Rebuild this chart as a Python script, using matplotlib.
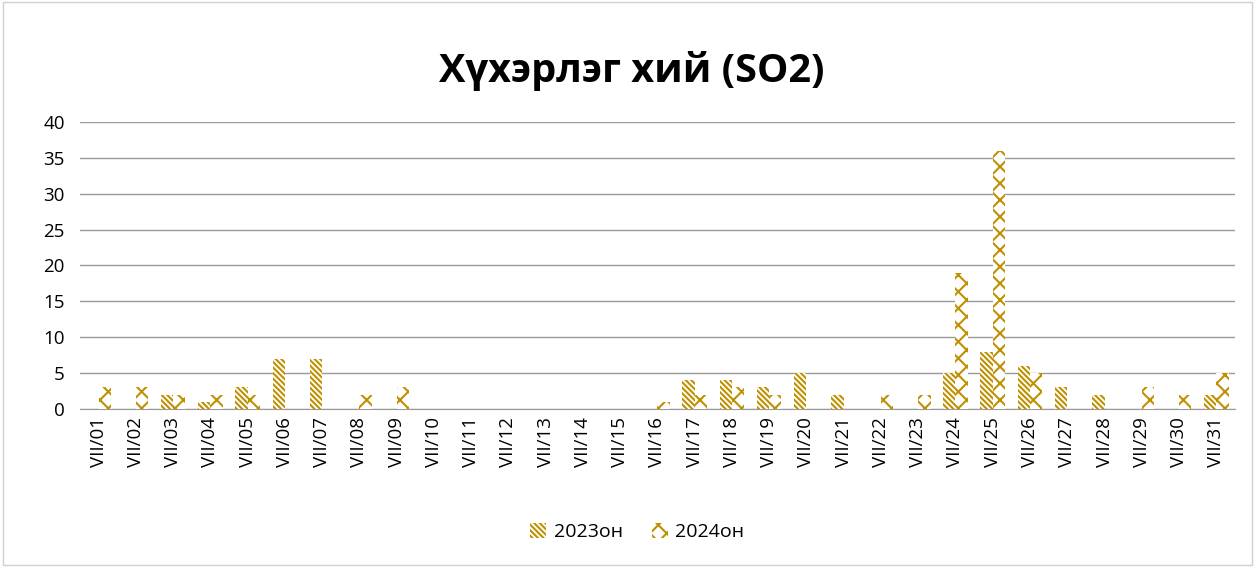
import numpy as np
import matplotlib.pyplot as plt
from matplotlib.patches import Rectangle

plt.rcParams['font.family'] = ['Open Sans', 'DejaVu Sans']
plt.rcParams['hatch.linewidth'] = 1.5

days = ['VII/%02d' % d for d in range(1, 32)]
so2_2023 = [0, 0, 2, 1, 3, 7, 7, 0, 0, 0, 0, 0, 0, 0, 0, 0,
            4, 4, 3, 5, 2, 0, 0, 5, 8, 6, 3, 2, 0, 0, 2]
so2_2024 = [3, 3, 2, 2, 2, 0, 0, 2, 3, 0, 0, 0, 0, 0, 0, 1,
            2, 3, 2, 0, 0, 2, 2, 19, 36, 5, 0, 0, 3, 2, 5]
labels = ['2023он', '2024он']

gold = '#BF9000'

fig = plt.figure(figsize=(12.55, 5.67), dpi=100)
ax = fig.add_axes([0.0637, 0.2787, 0.9203, 0.5061])

x = np.arange(len(days))
w = 0.33
# 2023 - dense diagonal stripes, 2024 - sparse cross pattern
ax.bar(x - w / 2, so2_2023, w, facecolor='white', edgecolor=gold,
       hatch='\\' * 6, linewidth=0, label=labels[0], zorder=3)
ax.bar(x + w / 2, so2_2024, w, facecolor='white', edgecolor=gold,
       hatch='x' * 2, linewidth=0, label=labels[1], zorder=3)

ax.set_ylim(0, 40)
ax.set_yticks(range(0, 41, 5))
ax.set_xlim(-0.5, len(days) - 0.5)
ax.set_xticks(x)
ax.set_xticklabels(days, rotation=90, fontsize=13.5)
ax.tick_params(axis='y', labelsize=13.5, length=0, pad=11)
ax.tick_params(axis='x', length=0, pad=6)
ax.grid(axis='y', color='#999999', linewidth=1, zorder=0)
for s in ['left', 'right', 'top']:
    ax.spines[s].set_visible(False)
ax.spines['bottom'].set_color('#999999')

fig.text(0.503, 0.875, 'Хүхэрлэг хий (SO2)', ha='center', va='center',
         fontsize=28.5, fontweight='bold')

fig.legend(loc='center', bbox_to_anchor=(0.508, 0.062), ncol=2, frameon=False,
           fontsize=14, handlelength=0.8, handleheight=0.8, columnspacing=1.5,
           handletextpad=0.4)

fig.patches.append(Rectangle((0.002, 0.003), 0.996, 0.994, transform=fig.transFigure,
                             fill=False, edgecolor='#d0d0d0', linewidth=1))

fig.savefig('out.png', dpi=100)
